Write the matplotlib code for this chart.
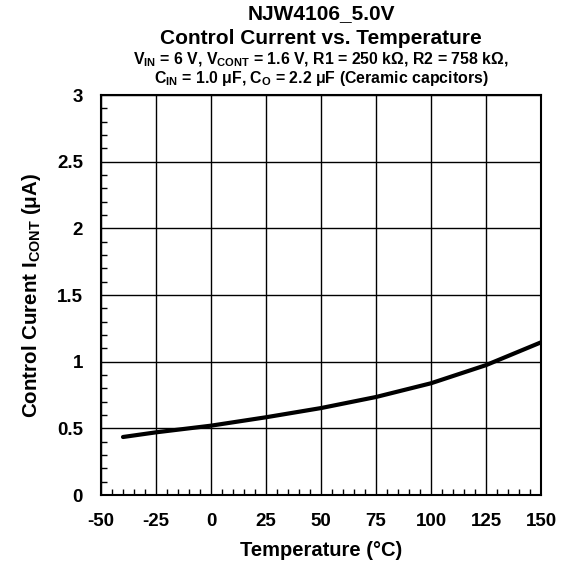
import matplotlib
matplotlib.use("Agg")
import matplotlib.pyplot as plt
from matplotlib.ticker import MultipleLocator

plt.rcParams['font.family'] = ['Liberation Sans', 'DejaVu Sans']
plt.rcParams['font.weight'] = 'bold'
plt.rcParams['axes.unicode_minus'] = False
plt.rcParams['mathtext.fontset'] = 'custom'
plt.rcParams['mathtext.rm'] = 'Liberation Sans:bold'
plt.rcParams['mathtext.bf'] = 'Liberation Sans:bold'
plt.rcParams['mathtext.it'] = 'Liberation Sans:bold'
plt.rcParams['mathtext.default'] = 'bf'

temperature = [-40, -25, 0, 25, 50, 75, 100, 125, 150]
control_current = [0.435, 0.47, 0.52, 0.583, 0.652, 0.735, 0.838, 0.974, 1.145]
xticks = [-50, -25, 0, 25, 50, 75, 100, 125, 150]
yticks = [0, 0.5, 1, 1.5, 2, 2.5, 3]
ytick_labels = ['0', '0.5', '1', '1.5', '2', '2.5', '3']

fig = plt.figure(figsize=(5.67, 5.66), dpi=100)
ax = fig.add_axes([101/567, 1-495/566, 440/567, 400/566])

ax.plot(temperature, control_current, color='black', lw=3, solid_capstyle='round')

ax.set_xlim(-50, 150)
ax.set_ylim(0, 3)
ax.set_xticks(xticks)
ax.set_yticks(yticks)
ax.set_yticklabels(ytick_labels)
ax.xaxis.set_minor_locator(MultipleLocator(5))
ax.yaxis.set_minor_locator(MultipleLocator(0.1))
ax.tick_params(which='major', length=0, pad=13, labelsize=13.5)
ax.tick_params(which='minor', direction='in', length=4, width=1, top=False, right=False)
ax.grid(True, which='major', color='black', lw=1)
for s in ax.spines.values():
    s.set_linewidth(1.5)
    s.set_color('black')

ax.set_xlabel('Temperature (°C)', fontsize=14.5, fontweight='bold', labelpad=8)
ax.set_ylabel(r'Control Curent I$_{CONT}$ ($\mu$A)', fontsize=14.8, fontweight='bold', labelpad=10)

cx = (101 + 541) / 2 / 567
fig.text(cx, 1-14/566, 'NJW4106_5.0V', ha='center', va='center', fontsize=15, fontweight='bold')
fig.text(cx, 1-38/566, 'Control Current vs. Temperature', ha='center', va='center', fontsize=15, fontweight='bold')
fig.text(cx, 1-60/566, r'V$_{IN}$ = 6 V, V$_{CONT}$ = 1.6 V, R1 = 250 kΩ, R2 = 758 kΩ,', ha='center', va='center', fontsize=11.4, fontweight='bold')
fig.text(cx, 1-78/566, r'C$_{IN}$ = 1.0 μF, C$_{O}$ = 2.2 μF (Ceramic capcitors)', ha='center', va='center', fontsize=11.4, fontweight='bold')

fig.savefig('out.png', dpi=100)
